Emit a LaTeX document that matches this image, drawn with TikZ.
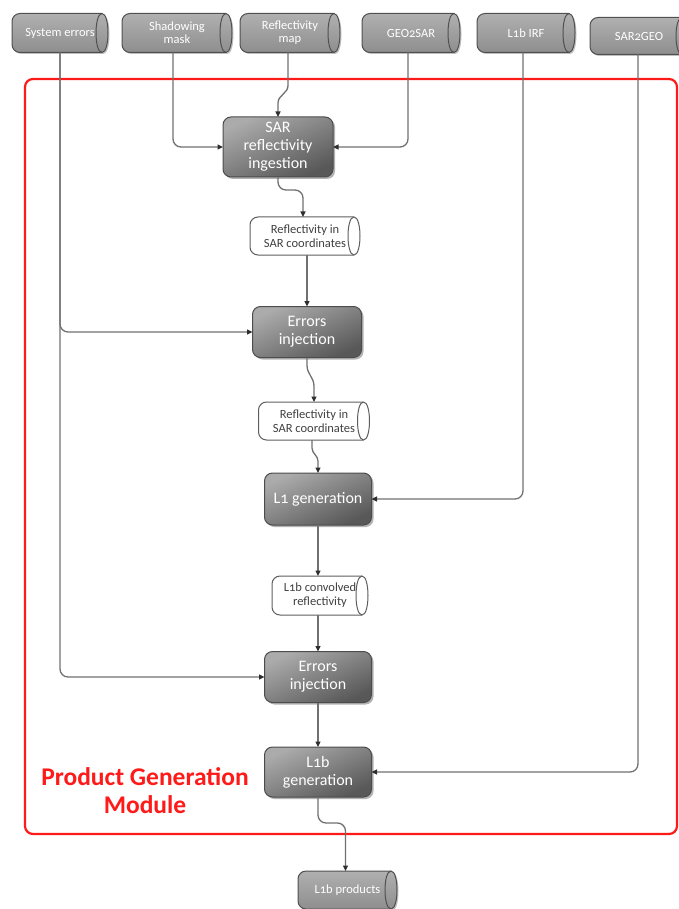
\documentclass[tikz,border=0pt]{standalone}
\usepackage{fontspec}
\setmainfont{Carlito}[Numbers=OldStyle]
\usetikzlibrary{arrows.meta,shadows,backgrounds,calc}

\definecolor{linegray}{HTML}{707070}
\definecolor{tipgray}{HTML}{2E2E2E}
\definecolor{boxtop}{HTML}{ABABAB}
\definecolor{boxbot}{HTML}{585858}
\definecolor{boxedge}{HTML}{4C4C4C}
\definecolor{storetop}{HTML}{B0B0B0}
\definecolor{storebot}{HTML}{8E8E8E}
\definecolor{storeedge}{HTML}{505050}
\definecolor{lightedge}{HTML}{5E5E5E}
\definecolor{pgred}{HTML}{FF1A1A}

\tikzset{
  process/.style={rectangle, rounded corners=8pt, draw=boxedge, line width=1pt,
    top color=boxtop, bottom color=boxbot, shading angle=25,
    drop shadow={shadow xshift=2pt, shadow yshift=-2pt, opacity=0.3, fill=black},
    text=white, align=center, font=\fontsize{16}{18}\selectfont,
    inner sep=0pt, outer sep=0pt},
  storetext/.style={rectangle, inner sep=0pt, outer sep=0pt, align=center,
    text=white, font=\fontsize{12.5}{13}\selectfont},
  lighttext/.style={rectangle, inner sep=0pt, outer sep=0pt, align=center,
    text=black!75, font=\fontsize{12.5}{14}\selectfont},
  darkbody/.style={draw=storeedge, line width=1pt, top color=storetop, bottom color=storebot,
    drop shadow={shadow xshift=1.5pt, shadow yshift=-1.5pt, opacity=0.25, fill=black}},
  lightbody/.style={draw=lightedge, line width=1pt, fill=white},
  capline/.style={draw=storeedge, line width=1pt},
  conn/.style={draw=linegray, line width=1.3pt, rounded corners=8pt,
    -{Triangle[length=5.5pt,width=5pt,color=tipgray]}},
  jog/.style={conn, sharp corners},
  frame/.style={draw=pgred, line width=2.2pt, rounded corners=8pt},
  modlabel/.style={text=pgred, font=\bfseries\fontsize{25.5}{28}\selectfont, align=center}
}

\begin{document}
\begin{tikzpicture}[x=1pt, y=-1pt]
  \clip (0,0) rectangle (679,909);

  % module frame
  \draw[frame] (25,79) rectangle (677,834);
  \node[modlabel] (pgm) at (145,791) {Product Generation\\Module};

  % data stores (text nodes; bodies drawn on the background layer)
  \node[storetext, minimum width=96pt, minimum height=39pt] (se) at (60,33) {System errors};
  \node[storetext, minimum width=110pt, minimum height=39pt] (sm) at (177,33) {Shadowing\\mask};
  \node[storetext, minimum width=100pt, minimum height=39pt] (rm) at (290,33) {Reflectivity\\map};
  \node[storetext, minimum width=98pt, minimum height=39pt] (gs) at (411,33) {GEO2SAR};
  \node[storetext, minimum width=98pt, minimum height=39pt] (irf) at (526,33) {L1b IRF};
  \node[storetext, minimum width=98pt, minimum height=37pt] (sg) at (639,36) {SAR2GEO};

  \node[lighttext, minimum width=110pt, minimum height=38pt] (c1) at (305,236) {Reflectivity in\\SAR coordinates};
  \node[lighttext, minimum width=111pt, minimum height=38pt] (c2) at (314,421) {Reflectivity in\\SAR coordinates};
  \node[lighttext, minimum width=96pt, minimum height=39pt] (c3) at (320,595.5) {L1b convolved\\reflectivity};

  \node[storetext, minimum width=99pt, minimum height=38pt] (prod) at (347.5,890) {L1b products};

  % processing steps
  \node[process, minimum width=110pt, minimum height=60pt] (ing) at (278,147) {SAR\\reflectivity\\ingestion};
  \node[process, minimum width=109pt, minimum height=51pt] (ei1) at (307,332) {Errors\\injection};
  \node[process, minimum width=107pt, minimum height=52pt] (l1) at (318,499) {L1 generation};
  \node[process, minimum width=107pt, minimum height=51pt] (ei2) at (318,677) {Errors\\injection};
  \node[process, minimum width=107pt, minimum height=50pt] (l1b) at (318,772) {L1b\\generation};

  % cylinder bodies with the end cap on the right
  \begin{scope}[on background layer]
    \foreach \n in {se,sm,rm,gs,irf,sg,prod} {
      \path[darkbody] ([xshift=-6pt]\n.north east) [rounded corners=8pt] -- (\n.north west)
        -- (\n.south west) [sharp corners] -- ([xshift=-6pt]\n.south east)
        .. controls ([xshift=2pt]\n.south east) and ([xshift=2pt]\n.north east) .. cycle;
    }
    \foreach \n in {c1,c2,c3} {
      \path[lightbody] ([xshift=-6pt]\n.north east) [rounded corners=8pt] -- (\n.north west)
        -- (\n.south west) [sharp corners] -- ([xshift=-6pt]\n.south east)
        .. controls ([xshift=2pt]\n.south east) and ([xshift=2pt]\n.north east) .. cycle;
    }
  \end{scope}
  \foreach \n in {se,sm,rm,gs,irf,sg,prod} {
    \draw[capline] ([xshift=-6pt]\n.north east) .. controls ([xshift=-14pt]\n.north east)
      and ([xshift=-14pt]\n.south east) .. ([xshift=-6pt]\n.south east);
  }
  \foreach \n in {c1,c2,c3} {
    \draw[capline, draw=lightedge] ([xshift=-6pt]\n.north east) .. controls ([xshift=-14pt]\n.north east)
      and ([xshift=-14pt]\n.south east) .. ([xshift=-6pt]\n.south east);
  }

  % inputs into the chain
  \draw[conn] ([xshift=-4pt]sm.south) |- (ing.west);
  \draw[jog] ([xshift=-2pt]rm.south) -- ++(0,33) to[out=-90,in=90] ([yshift=14pt]ing.north) -- (ing.north);
  \draw[conn] ([xshift=-3pt]gs.south) |- (ing.east);
  \draw[conn] (se.south) |- (ei1.west);
  \draw[conn] (se.south) |- (ei2.west);
  \draw[conn] ([xshift=-3pt]irf.south) |- (l1.east);
  \draw[conn] ([xshift=-1pt]sg.south) |- (l1b.east);

  % main processing chain
  \draw[conn] (ing.south) -- ++(0,13) -| ([xshift=-2pt]c1.north);
  \draw[conn] (ei1.north |- c1.south) -- (ei1.north);
  \draw[jog] (ei1.south) -- ++(0,8) to[out=-90,in=90] ([yshift=16pt]c2.north) -- (c2.north);
  \draw[jog] ([xshift=-2pt]c2.south) -- ++(0,8) to[out=-90,in=90] ([yshift=12pt]l1.north) -- (l1.north);
  \draw[conn] (l1.south) -- (l1.south |- c3.north);
  \draw[conn] (ei2.north |- c3.south) -- (ei2.north);
  \draw[conn] (ei2.south) -- (l1b.north);
  \draw[conn] (l1b.south) -- ++(0,26) -| ([xshift=-2pt]prod.north);
\end{tikzpicture}
\end{document}
